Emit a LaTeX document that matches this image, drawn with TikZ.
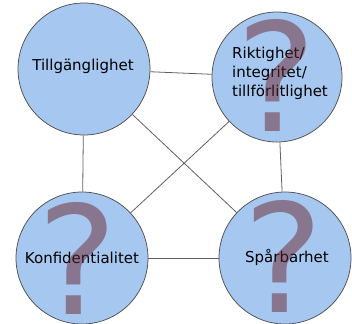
\documentclass[tikz,border=0pt]{standalone}
\usepackage{fontspec}
\setmainfont{DejaVu Sans}
\usepackage{tikz}
\usepackage{xcolor}
\usetikzlibrary{positioning}
\definecolor{Fill}{HTML}{A6C8F0}
\definecolor{Rim}{HTML}{505050}
\definecolor{Edge}{HTML}{606060}
\definecolor{Query}{HTML}{6C242E}

\begin{document}
\begin{tikzpicture}[x=1pt,y=-1pt,
  ring/.style={circle,draw=Rim,fill=Fill,line width=0.75pt,inner sep=0pt},
  lbl/.style={font=\fontsize{15}{19}\selectfont,inner sep=0pt},
  qmark/.style={font=\fontsize{151}{151}\selectfont,text=Query,text opacity=0.5,inner sep=0pt},
  link/.style={draw=Edge,line width=0.8pt}
]
\useasboundingbox (0,0) rectangle (352,323);
\node[ring,minimum size=132pt] (tl) at (84,69) {};
\node[ring,minimum size=130pt] (tr) at (277,77) {};
\node[ring,minimum size=132pt] (bl) at (82,258) {};
\node[ring,minimum size=132pt] (br) at (285,258) {};
\foreach \a/\b in {tl/tr,tl/bl,tr/br,bl/br,tl/br,tr/bl} {
  \draw[link] (\a) -- (\b);
}
\node[lbl] (ttl) at (83,66) {Tillgänglighet};
\node[lbl,align=left] (ttr) at (280,73) {Riktighet/\\integritet/\\tillförlitlighet};
\node[lbl] (tbl) at (82,258) {Konfidentialitet};
\node[lbl] (tbr) at (287,257) {Spårbarhet};
\node[qmark] (qtr) at (277,75) {?};
\node[qmark] (qbl) at (78,258) {?};
\node[qmark] (qbr) at (284,256) {?};
\end{tikzpicture}
\end{document}
